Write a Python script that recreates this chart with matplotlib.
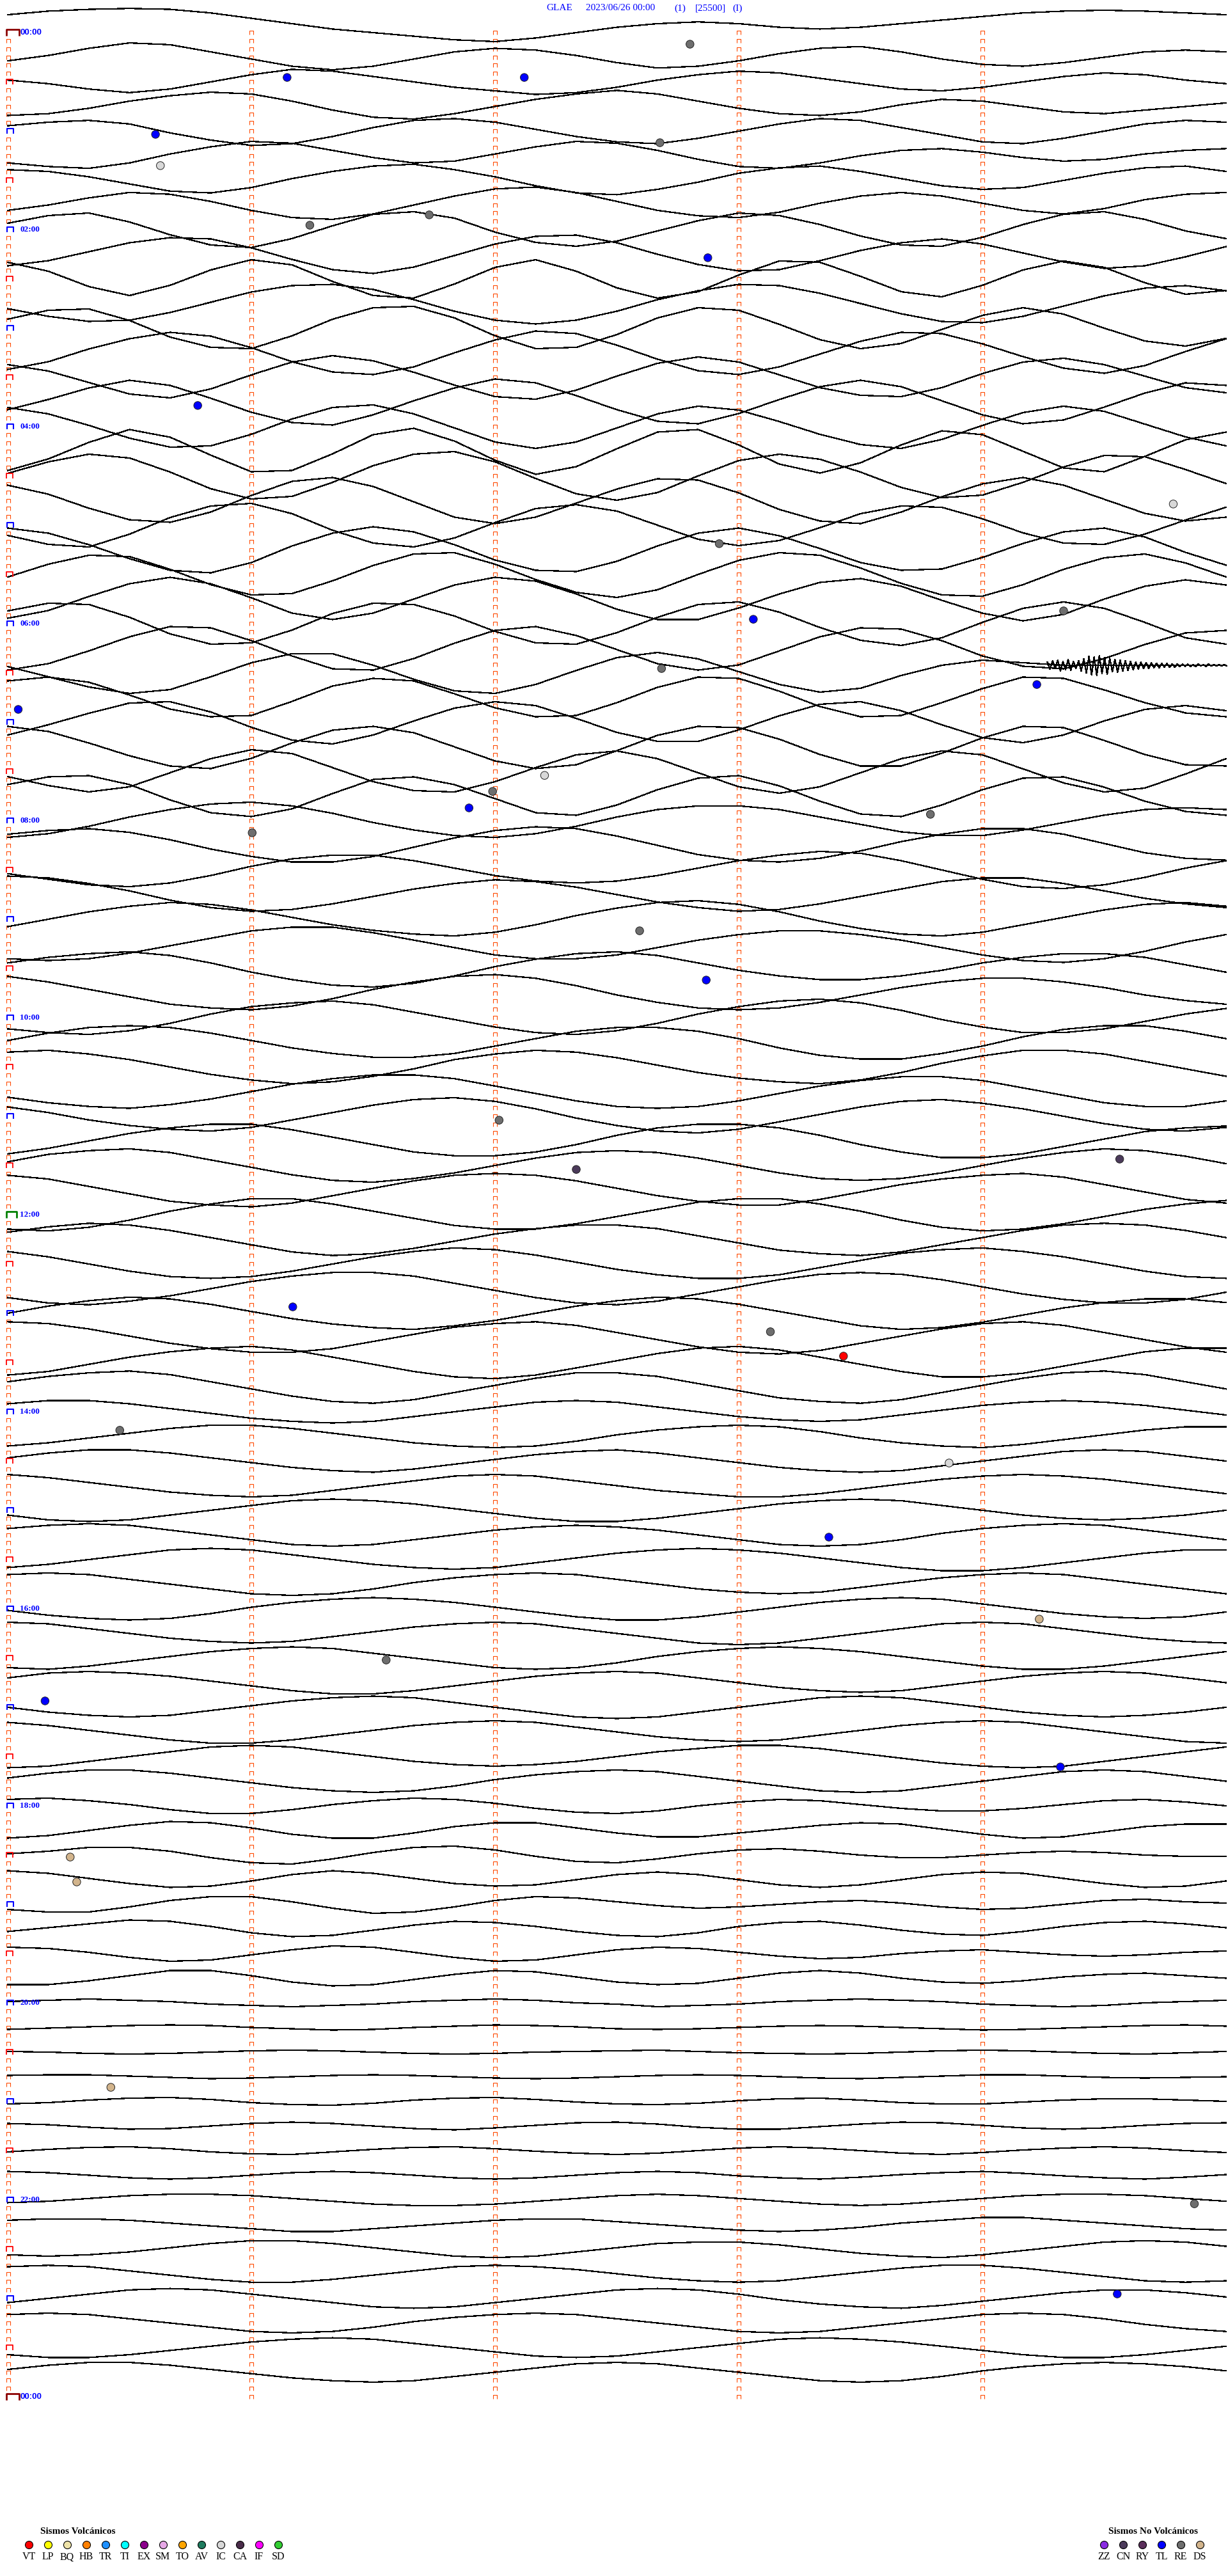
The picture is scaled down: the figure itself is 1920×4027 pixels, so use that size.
import numpy as np
import matplotlib
matplotlib.use("Agg")
import matplotlib.pyplot as plt
from matplotlib.path import Path

# ------------------------------------------------------------------ data
station = "GLAE"
date_label = "2023/06/26 00:00"
comp_label = "(1)"
gain_label = "[25500]"
mode_label = "(I)"

minutes = [i * 0.5 for i in range(31)]          # sample minutes within each 15-min line

# trace amplitude (display counts) every 30 s, one row per 15-min line
traces = [
    [20, 24, 26, 27, 26, 22, 16, 10, 4, 0, -4, -8, -10, -6, 0, 6, 10, 12, 10, 6, 4, 6, 10, 14, 18, 22, 24, 25, 24, 22, 20],
    [-4, 2, 10, 16, 14, 6, -2, -10, -14, -10, -2, 6, 10, 8, 2, -6, -12, -10, -4, 4, 10, 12, 6, -2, -8, -10, -6, 0, 6, 8, 6],
    [2, -2, -8, -12, -8, 0, 8, 14, 12, 6, 0, -6, -10, -14, -12, -6, 2, 8, 12, 10, 4, -2, -8, -10, -6, 0, 6, 10, 8, 2, -2],
    [-10, -8, -2, 6, 12, 16, 14, 6, -4, -12, -14, -8, 0, 8, 14, 18, 14, 6, -2, -8, -10, -6, 2, 8, 6, 0, -6, -8, -4, 0, 4],
    [6, 10, 12, 8, -2, -10, -16, -14, -6, 4, 12, 14, 10, 2, -6, -12, -14, -8, 0, 8, 14, 12, 4, -4, -12, -14, -8, 0, 8, 12, 10],
    [-8, -12, -14, -8, 2, 10, 16, 14, 6, -2, -8, -6, 2, 10, 16, 14, 6, -4, -12, -14, -8, 0, 6, 8, 4, -2, -6, -4, 2, 6, 8],
    [12, 10, 4, -4, -12, -14, -8, 2, 10, 16, 18, 12, 4, -6, -14, -16, -10, -2, 8, 14, 16, 10, 2, -6, -10, -8, 0, 8, 14, 16, 10],
    [-6, 0, 8, 14, 12, 4, -6, -14, -16, -10, 0, 10, 18, 20, 14, 4, -6, -12, -14, -8, 2, 10, 14, 10, 2, -6, -10, -4, 6, 12, 14],
    [10, 22, 26, 12, -8, -24, -28, -14, 6, 24, 28, 18, -4, -20, -26, -18, -2, 14, 26, 22, 8, -10, -24, -26, -12, 8, 24, 28, 16, -2, -14],
    [-18, -10, 4, 18, 26, 24, 10, -8, -24, -30, -20, -2, 16, 28, 30, 18, 0, -16, -26, -24, -10, 6, 18, 24, 16, 2, -12, -22, -18, -4, 12],
    [26, 12, -12, -26, -10, 14, 30, 22, -4, -26, -30, -8, 18, 30, 12, -14, -30, -20, 6, 28, 26, 4, -20, -28, -10, 14, 28, 18, -6, -24, -18],
    [-8, -20, -28, -26, -14, 2, 18, 28, 30, 22, 6, -12, -26, -32, -26, -12, 6, 20, 30, 28, 16, 0, -16, -28, -30, -20, -4, 12, 24, 28, 20],
    [14, 28, 30, 12, -14, -30, -32, -12, 14, 32, 34, 16, -12, -32, -30, -10, 16, 32, 28, 6, -18, -32, -24, -2, 20, 32, 22, 0, -20, -28, -16],
    [-26, -14, 6, 22, 32, 26, 8, -14, -30, -34, -22, 0, 20, 34, 30, 12, -10, -28, -34, -22, -2, 18, 32, 30, 14, -6, -24, -32, -20, 2, 22],
    [20, 10, -8, -26, -32, -18, 4, 24, 34, 26, 8, -12, -30, -34, -20, 2, 22, 32, 24, 4, -16, -28, -30, -16, 6, 24, 30, 20, 2, -16, -24],
    [-12, 4, 22, 34, 26, 6, -16, -32, -36, -20, 2, 22, 36, 30, 10, -12, -30, -34, -18, 4, 24, 34, 24, 2, -20, -34, -28, -8, 14, 30, 26],
    [30, 20, 2, -18, -32, -30, -12, 12, 30, 34, 20, -2, -24, -34, -24, -2, 20, 32, 26, 8, -12, -28, -34, -20, 2, 22, 32, 24, 4, -16, -30],
    [-30, -12, 14, 34, 22, -6, -32, -30, -4, 26, 36, 16, -14, -36, -24, 4, 30, 34, 10, -20, -34, -18, 10, 32, 26, 0, -26, -32, -8, 18, 30],
    [4, 22, 34, 28, 6, -20, -36, -32, -10, 16, 34, 38, 22, -4, -28, -38, -26, 0, 24, 34, 26, 6, -18, -34, -30, -10, 14, 32, 30, 10, -12],
    [24, 10, -12, -30, -34, -18, 8, 30, 36, 22, -2, -26, -36, -26, -4, 18, 34, 32, 12, -14, -32, -36, -18, 6, 26, 36, 24, 2, -20, -32, -26],
    [-16, -30, -34, -14, 12, 30, 34, 18, -8, -28, -34, -20, 4, 26, 32, 22, 0, -22, -32, -24, -4, 18, 30, 28, 10, -12, -28, -30, -14, 8, 28],
    [34, 26, 8, -14, -32, -36, -20, 6, 26, 36, 28, 8, -16, -32, -34, -18, 6, 26, 34, 22, 2, -20, -32, -30, -12, 10, 28, 34, 20, -4, -24],
    [-4, 16, 30, 28, 8, -16, -32, -30, -10, 14, 32, 34, 16, -8, -28, -36, -24, 0, 22, 34, 30, 10, -14, -32, -34, -16, 8, 26, 32, 18, -4],
    [-30, -18, 4, 24, 34, 24, 2, -22, -32, -22, 0, 22, 34, 28, 8, -16, -32, -32, -14, 8, 26, 32, 20, -2, -22, -34, -24, 0, 20, 30, 22],
    [20, 32, 30, 10, -16, -32, -30, -10, 16, 32, 30, 12, -12, -30, -32, -14, 10, 30, 34, 18, -6, -26, -34, -22, 2, 24, 34, 24, 2, -22, -32],
    [-34, -24, -4, 18, 34, 32, 12, -12, -32, -34, -16, 8, 28, 34, 20, -2, -24, -34, -26, -4, 18, 32, 30, 12, -12, -28, -32, -16, 6, 24, 28],
    [10, -6, -22, -32, -26, -6, 16, 30, 30, 12, -10, -28, -32, -18, 4, 24, 32, 22, 2, -18, -30, -24, -4, 12, 20, 16, 12, 12, 12, 12, 12],
    [26, 32, 24, 4, -18, -30, -28, -6, 18, 30, 26, 6, -16, -30, -28, -8, 16, 32, 30, 10, -14, -30, -28, -8, 14, 32, 30, 12, -8, -24, -30],
    [-20, -4, 14, 30, 32, 16, -8, -28, -34, -20, 2, 22, 32, 26, 6, -16, -30, -30, -12, 10, 28, 32, 18, -4, -24, -32, -20, 2, 20, 26, 18],
    [32, 24, 6, -14, -30, -34, -18, 6, 26, 32, 22, 0, -22, -34, -28, -6, 18, 32, 30, 12, -12, -30, -30, -10, 14, 32, 30, 10, -12, -28, -30],
    [-8, -22, -32, -24, -2, 20, 34, 28, 6, -16, -30, -32, -16, 6, 26, 32, 20, -2, -24, -34, -24, -2, 20, 32, 26, 4, -18, -32, -26, -4, 20],
    [18, 30, 32, 18, -6, -26, -32, -20, 4, 26, 30, 18, -4, -26, -30, -14, 10, 28, 32, 16, -8, -28, -32, -14, 10, 28, 30, 14, -8, -24, -30],
    [-18, -14, -6, 4, 12, 18, 20, 16, 8, -2, -10, -16, -18, -14, -6, 4, 12, 16, 16, 12, 4, -4, -12, -16, -16, -10, -2, 6, 12, 14, 12],
    [12, 16, 18, 14, 6, -4, -12, -18, -18, -12, -2, 8, 16, 20, 18, 10, 0, -10, -16, -18, -14, -6, 4, 12, 18, 18, 12, 2, -8, -14, -16],
    [-4, -10, -16, -18, -14, -6, 4, 12, 16, 16, 10, 2, -6, -12, -14, -12, -6, 2, 10, 16, 20, 18, 10, 0, -10, -18, -20, -16, -8, 2, 10],
    [20, 18, 12, 4, -6, -14, -18, -16, -10, -2, 6, 12, 16, 14, 8, 0, -8, -14, -18, -16, -10, -2, 6, 14, 18, 18, 12, 4, -4, -10, -14],
    [-8, 0, 8, 14, 18, 16, 10, 2, -6, -12, -16, -18, -14, -6, 4, 12, 18, 20, 16, 8, -2, -10, -16, -18, -14, -6, 2, 10, 16, 18, 14],
    [-16, -18, -16, -10, -2, 6, 14, 18, 18, 12, 4, -4, -12, -16, -16, -12, -4, 4, 10, 14, 14, 10, 4, -4, -12, -18, -20, -16, -8, 2, 10],
    [6, 12, 16, 18, 14, 6, -4, -12, -18, -20, -16, -8, 2, 10, 16, 18, 14, 6, -2, -8, -12, -12, -8, -2, 6, 12, 16, 16, 12, 4, -4],
    [18, 12, 4, -4, -12, -16, -18, -14, -6, 4, 12, 18, 20, 16, 8, -2, -10, -16, -18, -16, -10, -2, 6, 12, 16, 16, 12, 6, -2, -8, -12],
    [-12, -16, -18, -14, -6, 4, 12, 16, 18, 14, 6, -2, -10, -16, -18, -14, -6, 4, 12, 18, 20, 16, 8, -2, -10, -16, -16, -12, -4, 4, 10],
    [2, 10, 16, 18, 16, 10, 2, -6, -12, -16, -16, -12, -4, 4, 12, 16, 16, 12, 4, -6, -14, -18, -18, -12, -4, 6, 14, 18, 18, 12, 4],
    [16, 18, 14, 8, 0, -8, -14, -18, -16, -10, -2, 8, 14, 18, 16, 10, 2, -6, -12, -16, -18, -14, -6, 4, 12, 18, 18, 14, 6, -2, -10],
    [-6, -12, -16, -18, -14, -8, 0, 8, 14, 18, 18, 14, 6, -2, -10, -16, -18, -16, -10, -2, 6, 12, 16, 16, 12, 4, -4, -12, -16, -16, -10],
    [10, 4, -4, -10, -14, -16, -12, -4, 4, 12, 18, 20, 16, 8, -2, -10, -16, -18, -14, -6, 2, 10, 16, 18, 14, 8, 0, -8, -14, -16, -12],
    [-14, -8, 0, 8, 14, 18, 18, 12, 4, -4, -12, -16, -16, -12, -4, 6, 14, 18, 18, 14, 6, -4, -12, -18, -18, -14, -6, 2, 10, 14, 16],
    [4, 12, 16, 18, 14, 6, -2, -10, -16, -18, -14, -8, 0, 8, 14, 16, 14, 8, 0, -8, -14, -16, -14, -8, 0, 8, 14, 18, 16, 10, 2],
    [16, 12, 4, -4, -12, -16, -18, -14, -6, 2, 10, 16, 18, 16, 10, 2, -6, -12, -16, -16, -10, -2, 6, 12, 16, 18, 14, 6, -2, -10, -14],
    [-16, -18, -14, -6, 4, 12, 18, 18, 12, 4, -4, -12, -16, -16, -10, -2, 6, 14, 18, 18, 12, 4, -6, -14, -18, -16, -10, -2, 6, 12, 16],
    [8, 14, 18, 16, 10, 2, -6, -14, -18, -16, -10, -2, 6, 12, 16, 16, 12, 4, -4, -12, -16, -18, -14, -6, 2, 10, 16, 18, 16, 10, 2],
    [14, 8, 0, -8, -14, -16, -14, -8, 0, 8, 14, 18, 16, 10, 2, -6, -12, -16, -16, -12, -4, 4, 12, 16, 18, 14, 8, 0, -8, -14, -16],
    [-10, -16, -18, -14, -8, 0, 8, 14, 18, 18, 14, 6, -2, -10, -16, -18, -14, -6, 2, 10, 16, 18, 16, 10, 2, -6, -12, -16, -16, -12, -4],
    [0, 8, 14, 18, 16, 10, 2, -6, -12, -16, -18, -14, -8, 0, 8, 14, 18, 16, 10, 2, -6, -14, -18, -16, -10, -2, 6, 12, 16, 16, 12],
    [18, 16, 10, 2, -6, -12, -16, -16, -12, -4, 4, 12, 16, 18, 14, 6, -2, -10, -16, -18, -14, -6, 2, 10, 16, 18, 14, 6, -2, -10, -16],
    [-14, -10, -2, 6, 12, 16, 18, 14, 6, -2, -10, -16, -18, -14, -6, 2, 10, 16, 18, 14, 6, -2, -10, -16, -16, -12, -4, 4, 12, 16, 16],
    [6, 12, 16, 18, 14, 6, -2, -10, -16, -18, -14, -6, 2, 10, 16, 16, 12, 4, -4, -12, -16, -18, -14, -6, 2, 10, 16, 18, 14, 6, -2],
    [10, 14, 14, 10, 4, -2, -8, -12, -14, -12, -6, 0, 6, 12, 14, 12, 6, 0, -6, -10, -12, -10, -4, 2, 8, 12, 14, 12, 8, 2, -4],
    [-12, -8, -2, 4, 10, 14, 14, 10, 4, -2, -8, -12, -14, -12, -6, 2, 8, 12, 14, 12, 6, -2, -8, -12, -14, -10, -4, 2, 8, 12, 12],
    [4, 10, 14, 14, 10, 4, -2, -8, -12, -14, -10, -4, 2, 8, 12, 14, 10, 4, -2, -8, -12, -14, -12, -6, 0, 6, 12, 14, 12, 6, 0],
    [14, 10, 4, -2, -8, -12, -14, -12, -6, 0, 6, 12, 14, 12, 6, 0, -6, -10, -14, -14, -10, -4, 2, 8, 12, 14, 12, 8, 2, -4, -10],
    [-6, -12, -14, -12, -6, 0, 6, 12, 14, 12, 8, 2, -4, -10, -14, -14, -10, -4, 2, 8, 12, 14, 12, 6, 0, -6, -10, -12, -10, -6, 0],
    [8, 12, 14, 12, 6, 0, -6, -12, -14, -12, -6, 0, 6, 10, 12, 10, 6, 0, -6, -12, -14, -12, -6, 2, 8, 12, 14, 12, 6, 0, -6],
    [-10, -6, 0, 6, 12, 14, 12, 6, 0, -6, -10, -12, -10, -4, 2, 8, 12, 14, 12, 8, 2, -4, -10, -14, -14, -10, -4, 2, 8, 12, 12],
    [12, 14, 12, 6, 0, -6, -12, -14, -12, -6, 2, 8, 12, 14, 12, 6, 0, -6, -10, -12, -10, -4, 2, 8, 12, 14, 12, 6, 0, -6, -12],
    [-2, -8, -12, -14, -12, -6, 2, 8, 12, 14, 12, 8, 2, -4, -10, -14, -14, -10, -4, 2, 8, 12, 14, 12, 6, 0, -6, -10, -12, -10, -4],
    [14, 12, 6, 0, -6, -10, -12, -10, -4, 2, 8, 12, 14, 12, 6, 0, -6, -12, -14, -12, -6, 0, 6, 12, 14, 12, 6, 0, -6, -10, -12],
    [-12, -14, -10, -4, 2, 8, 12, 14, 12, 6, 0, -6, -12, -14, -12, -6, 2, 8, 12, 14, 12, 8, 2, -4, -10, -14, -14, -10, -4, 2, 8],
    [6, 12, 14, 12, 8, 2, -4, -10, -14, -14, -10, -4, 2, 8, 12, 14, 12, 6, 0, -6, -10, -12, -10, -4, 2, 8, 12, 14, 12, 6, 0],
    [0, -6, -10, -12, -10, -4, 2, 8, 12, 14, 12, 6, 0, -6, -12, -14, -12, -6, 0, 6, 12, 14, 12, 6, 0, -6, -10, -12, -10, -6, 0],
    [12, 8, 2, -4, -10, -14, -14, -10, -4, 2, 8, 12, 14, 12, 6, 0, -6, -10, -12, -10, -4, 2, 8, 12, 14, 12, 6, 0, -6, -12, -14],
    [-14, -12, -6, 0, 6, 12, 14, 12, 6, 0, -6, -10, -12, -10, -6, 0, 6, 10, 14, 14, 10, 4, -2, -8, -12, -14, -12, -6, 0, 6, 12],
    [4, 10, 14, 14, 10, 4, -2, -8, -12, -14, -12, -6, 2, 8, 12, 14, 12, 6, 0, -6, -12, -14, -12, -6, 0, 6, 12, 14, 12, 6, 0],
    [10, 12, 8, 2, -6, -12, -12, -6, 2, 8, 12, 10, 4, -4, -10, -12, -8, 0, 6, 10, 8, 2, -4, -8, -8, -4, 2, 8, 10, 6, 0],
    [-12, -8, 0, 8, 14, 12, 4, -6, -12, -12, -4, 6, 12, 12, 4, -4, -10, -10, -4, 2, 8, 12, 10, 2, -6, -12, -10, -2, 6, 10, 10],
    [2, 6, 12, 12, 6, -4, -12, -14, -6, 4, 12, 14, 8, -2, -10, -12, -6, 2, 8, 10, 6, 0, -4, -4, 0, 4, 6, 4, 0, -2, -2],
    [14, 10, 2, -6, -12, -10, -2, 8, 14, 10, 2, -6, -10, -8, 0, 8, 12, 8, 0, -8, -12, -8, 0, 8, 12, 10, 2, -6, -12, -10, -2],
    [-8, -12, -12, -4, 6, 12, 12, 4, -6, -14, -12, -4, 6, 12, 10, 4, -2, -6, -4, 0, 4, 6, 2, -4, -8, -6, 0, 6, 8, 4, 2],
    [-4, 2, 8, 14, 12, 4, -6, -12, -10, -2, 6, 12, 10, 4, -4, -10, -12, -6, 4, 10, 12, 6, -2, -8, -10, -4, 4, 10, 12, 8, 2],
    [10, 8, 2, -6, -12, -10, -2, 6, 12, 10, 2, -6, -12, -10, -2, 6, 10, 8, 2, -4, -8, -6, 0, 4, 6, 2, -2, -4, -2, 2, 4],
    [-10, -10, -4, 4, 12, 12, 4, -6, -12, -10, -2, 6, 12, 10, 2, -6, -10, -8, 0, 8, 12, 8, 0, -6, -8, -4, 2, 6, 8, 4, 0],
    [2, 4, 6, 4, 2, -2, -4, -6, -4, -2, 2, 4, 6, 4, 0, -2, -6, -4, -2, 2, 4, 6, 4, 2, -2, -4, -6, -4, 0, 2, 4],
    [-3, -1, 1, 3, 4, 3, 0, -2, -4, -3, 0, 2, 4, 3, 1, -2, -3, -2, 0, 2, 3, 2, 0, -2, -4, -3, -1, 1, 3, 4, 2],
    [1, 0, -2, -3, -2, 0, 2, 3, 2, 0, -2, -3, -2, 0, 1, 2, 3, 1, -1, -2, -3, -2, 0, 2, 3, 2, 0, -2, -3, -1, 1],
    [2, 3, 3, 1, -1, -3, -2, 0, 2, 3, 2, 0, -2, -3, -2, 0, 2, 3, 2, 0, -2, -3, -1, 1, 3, 3, 1, -1, -2, -1, 0],
    [-4, -2, 2, 5, 6, 3, -2, -5, -6, -3, 2, 5, 6, 3, -1, -4, -5, -3, 1, 4, 5, 2, -2, -4, -4, -1, 2, 4, 4, 2, 0],
    [4, 2, -2, -5, -4, 0, 4, 6, 4, 0, -4, -6, -3, 1, 5, 6, 3, -2, -5, -5, -1, 3, 6, 5, 1, -3, -5, -3, 1, 4, 5],
    [-2, 2, 5, 6, 3, -2, -5, -6, -2, 2, 5, 6, 3, -1, -4, -6, -4, 0, 4, 6, 4, 0, -4, -6, -3, 1, 4, 6, 4, 0, -3],
    [6, 4, 0, -4, -6, -4, 0, 4, 6, 4, 0, -4, -6, -4, 0, 4, 6, 4, -1, -4, -6, -3, 1, 4, 6, 3, -1, -4, -6, -3, 1],
    [-4, -2, 2, 6, 8, 8, 6, 2, -2, -6, -8, -8, -6, -2, 2, 6, 8, 6, 2, -2, -6, -8, -6, -2, 2, 6, 8, 8, 6, 2, -2],
    [6, 8, 8, 6, 2, -2, -6, -10, -10, -6, -2, 2, 6, 8, 8, 4, 0, -4, -8, -10, -8, -4, 2, 6, 10, 10, 6, 2, -2, -6, -8],
    [-8, -10, -8, -4, 2, 8, 12, 12, 8, 2, -4, -10, -12, -10, -4, 2, 8, 10, 10, 6, 0, -6, -10, -12, -8, -2, 4, 10, 12, 10, 4],
    [10, 12, 10, 4, -2, -8, -12, -12, -8, -2, 4, 10, 12, 10, 6, 0, -6, -10, -12, -10, -4, 2, 8, 12, 12, 8, 2, -4, -10, -12, -10],
    [-6, 0, 6, 12, 14, 12, 6, 0, -6, -12, -14, -12, -6, 0, 6, 12, 14, 12, 6, -2, -8, -12, -14, -10, -4, 2, 8, 12, 12, 8, 2],
    [12, 14, 12, 6, 0, -6, -12, -14, -12, -6, 2, 8, 12, 14, 12, 6, 0, -6, -12, -14, -12, -6, 0, 6, 12, 14, 12, 6, -2, -8, -12],
    [-10, -14, -14, -10, -4, 2, 8, 12, 14, 12, 6, 0, -6, -12, -14, -12, -6, 0, 6, 12, 14, 12, 8, 2, -4, -10, -14, -14, -10, -4, 2],
    [4, 10, 14, 14, 10, 4, -2, -8, -12, -14, -12, -6, 0, 6, 12, 14, 12, 6, 0, -6, -12, -14, -12, -6, 2, 8, 12, 14, 12, 8, 2],
]

# amplitude envelope read per two-hour block (12 blocks of 8 lines)
block_gain = [1.4, 1.0, 1.0, 1.0, 1.45, 1.45, 1.4, 1.25, 1.25, 1.0, 1.0, 1.1]

# local earthquake burst on line 26 (06:30), samples every 0.032 min from 12.8 min
burst_line = 26
burst_start = 12.8
burst_step = 0.032
burst_level = 12
burst_vals = [5, -6, 7, -5, 8, -9, 6, -7, 9, -8, 6, -5, 7, -9, 10, -12,
              14, -15, 13, -16, 15, -13, 12, -14, 11, -10, 9, -11, 8, -9,
              7, -8, 6, -7, 5, -6, 5, -5, 4, -5, 4, -4, 3, -4, 3, -3,
              3, -3, 2, -3, 2, -2, 2, -2, 2, -2, 1, -2, 2, -1, 1, -2,
              2, -1, 1, -1, 1, -1, 1, -1]

# detected events: line index (float), minute within line, class code
event_line = [0.47, 1.82, 1.82, 4.13, 4.47, 5.40, 7.82, 7.40, 9.14, 15.14,
              19.14, 20.75, 23.82, 23.48, 25.82, 26.47, 27.48, 30.16, 30.81, 31.48,
              31.74, 32.49, 36.47, 38.47, 44.16, 46.16, 45.74, 51.74, 52.75, 53.74,
              56.75, 58.08, 61.09, 64.42, 66.08, 67.74, 70.42, 74.08, 75.09, 83.43,
              88.16, 91.82]
event_min = [8.40, 3.44, 6.36, 1.82, 8.03, 1.88, 3.72, 5.19, 8.62, 2.34,
             14.35, 8.76, 9.18, 13.00, 8.05, 12.67, 0.13, 6.61, 5.97, 5.68,
             11.36, 3.01, 7.78, 8.60, 6.05, 7.00, 13.69, 3.51, 9.39, 10.29,
             1.38, 11.59, 10.11, 12.70, 4.66, 0.46, 12.96, 0.77, 0.85, 1.27,
             14.61, 13.66]
event_type = ["RE", "TL", "TL", "TL", "RE", "IC", "RE", "RE", "TL", "TL",
              "IC", "RE", "TL", "RE", "RE", "TL", "TL", "IC", "RE", "TL",
              "RE", "RE", "RE", "TL", "RE", "CN", "CN", "TL", "RE", "VT",
              "RE", "IC", "TL", "DS", "RE", "TL", "TL", "DS", "DS", "DS",
              "RE", "TL"]

volc_codes = ["VT", "LP", "BQ", "HB", "TR", "TI", "EX", "SM", "TO", "AV", "IC", "CA", "IF", "SD"]
volc_colors = ["#ff0000", "#ffff00", "#eee3a8", "#ff8000", "#1e90ff", "#00ffff", "#8b008b",
               "#e6a8e6", "#ffa500", "#1e7b5e", "#d8d8d8", "#4a2c4a", "#ff00ff", "#32cd32"]
nonvolc_codes = ["ZZ", "CN", "RY", "TL", "RE", "DS"]
nonvolc_colors = ["#8a2be2", "#4b3a5a", "#5a2e5a", "#0000ff", "#6e6e6e", "#d2b48c"]

hour_labels = ["00:00", "02:00", "04:00", "06:00", "08:00", "10:00", "12:00",
               "14:00", "16:00", "18:00", "20:00", "22:00", "00:00"]

# ------------------------------------------------------------------ layout
W, H = 1920, 4027
X0, PPM = 12.0, 127.0      # pixel of minute 0, pixels per minute
Y0, PPL = 51.0, 38.5       # pixel of line 0, pixels per line

fig = plt.figure(figsize=(W / 100, H / 100), dpi=100)
fig.patch.set_facecolor("white")
ax = fig.add_axes([0, 0, 1, 1])
ax.set_xlim(-X0 / PPM, (W - X0) / PPM)
ax.set_ylim((H - Y0) / PPL, -Y0 / PPL)
ax.axis("off")


def px2min(px):
    return (px - X0) / PPM


# traces
for k, vals in enumerate(traces):
    g = block_gain[min(k // 8, len(block_gain) - 1)]
    t = np.array(minutes[:len(vals)], dtype=float)
    ax.plot(t, k - g * np.array(vals[:len(t)], dtype=float) / PPL, color="black", lw=0.9,
            antialiased=False, zorder=2)

# burst
bx = burst_start + burst_step * np.arange(len(burst_vals))
ax.plot(bx, burst_line - (burst_level + np.array(burst_vals, dtype=float)) / PPL,
        color="black", lw=0.9, antialiased=False, zorder=2)


# dashed time marks
def cap_path(w, h):
    a = max(w, h)
    ww, hh = w / a, h / a
    return Path([(-ww, -hh), (-ww, hh), (ww, hh), (ww, -hh)],
                [Path.MOVETO, Path.LINETO, Path.LINETO, Path.LINETO])


small = cap_path(6, 6)
n_lines = len(traces)
marks = np.arange(0, 3 * n_lines + 1) / 3.0
for col in [0, 3, 6, 9, 12]:
    if col == 0:
        ys = [m for j, m in enumerate(marks) if not (j % 6 == 0)]
        xc = px2min(13)
    else:
        ys = list(marks)
        xc = col
    ax.plot([xc] * len(ys), ys, ls="none", marker=small, markersize=4.2,
            markerfacecolor="none", markeredgecolor="#ff4a00", markeredgewidth=0.8,
            antialiased=False, zorder=1)

# half-hour and hour marks at the left
for k in range(0, n_lines + 1, 2):
    if k % 4 == 2:
        ax.plot(px2min(14.5), k, ls="none", marker=cap_path(9, 8), markersize=6.5,
                markerfacecolor="none", markeredgecolor="#ff0000", markeredgewidth=1.3, zorder=3)
    elif k == 0 or k == n_lines:
        ax.plot(px2min(20), k, ls="none", marker=cap_path(20, 10), markersize=14.4,
                markerfacecolor="none", markeredgecolor="#8b0000", markeredgewidth=2.0, zorder=3)
    elif k == 48:
        ax.plot(px2min(18), k, ls="none", marker=cap_path(16, 10), markersize=11.5,
                markerfacecolor="none", markeredgecolor="#008000", markeredgewidth=2.0, zorder=3)
    else:
        ax.plot(px2min(15.5), k, ls="none", marker=cap_path(11, 8), markersize=7.9,
                markerfacecolor="none", markeredgecolor="#0000ff", markeredgewidth=1.5, zorder=3)

# hour labels every two hours
for i, lab in enumerate(hour_labels):
    k = i * 8
    fam = "Liberation Sans" if lab == "00:00" else "Liberation Serif"
    ax.text(px2min(31), k, lab, color="#0000ff", fontsize=9.5, fontweight="bold",
            family=fam, ha="left", va="center", zorder=4)

# events
type_color = dict(zip(volc_codes + nonvolc_codes, volc_colors + nonvolc_colors))
ecol = [type_color[c] for c in event_type]
ax.scatter(event_min, event_line, s=80, c=ecol, edgecolors="#222222", linewidths=0.7, zorder=5)

# title
for px, txt in [(854, station), (916, date_label), (1054, comp_label),
                (1087, gain_label), (1145, mode_label)]:
    fig.text(px / W, 1 - 13 / H, txt, color="#0000ff", fontsize=11, family="Liberation Serif",
             ha="left", va="center")

# legends
lax = fig.add_axes([0, 0, 1, 1], facecolor="none")
lax.set_xlim(0, W)
lax.set_ylim(H, 0)
lax.axis("off")

lax.text(63, 3957, "Sismos Volcánicos", fontsize=11, fontweight="bold",
         family="Liberation Serif", ha="left", va="center")
for i, (c, lab) in enumerate(zip(volc_colors, volc_codes)):
    x = 45 + 30 * i
    lax.scatter([x], [3978], s=75, c=[c], edgecolors="black", linewidths=0.8)
    lax.text(x, 3997, lab, fontsize=11.5, family="Liberation Serif", ha="center", va="center")

lax.text(1733, 3957, "Sismos No Volcánicos", fontsize=11, fontweight="bold",
         family="Liberation Serif", ha="left", va="center")
for i, (c, lab) in enumerate(zip(nonvolc_colors, nonvolc_codes)):
    x = 1726 + 30 * i
    lax.scatter([x], [3978], s=75, c=[c], edgecolors="black", linewidths=0.8)
    lax.text(x, 3997, lab, fontsize=11.5, family="Liberation Serif", ha="center", va="center")

fig.savefig("out.png", dpi=100, facecolor="white")
